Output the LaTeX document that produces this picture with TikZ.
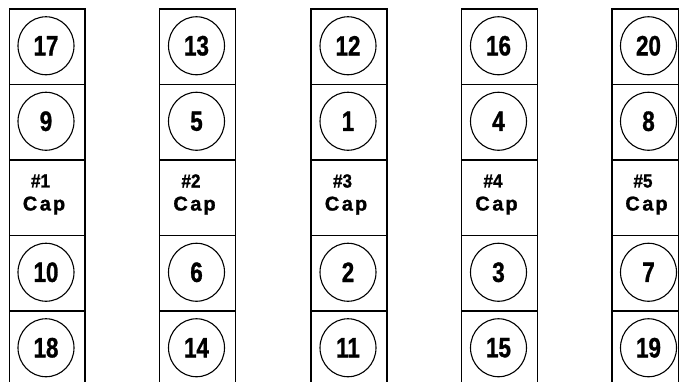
\documentclass[tikz,border=0pt]{standalone}
\usepackage{fontspec}
\setmainfont{Liberation Sans}
\newfontfamily\numfont{Liberation Sans}[BoldFont={Liberation Sans Bold}, BoldFeatures={FakeBold=1.2}]
\usetikzlibrary{shapes.geometric}
\begin{document}
\begin{tikzpicture}[x=1pt,y=-1pt,
  cellbox/.style={draw=black, line width=1.5pt, minimum height=75.5pt, inner sep=0pt, anchor=north west},
  numring/.style={ellipse, draw=black, line width=1.1pt, minimum width=56pt, minimum height=58pt, inner sep=0pt,
    font=\numfont\bfseries\fontsize{28}{28}\selectfont},
  captext/.style={align=center, inner sep=0pt, font=\numfont\bfseries\fontsize{20}{23}\selectfont}]
\useasboundingbox (0,0) rectangle (679,381);
\clip (0,0) rectangle (679,381);
% columns: index / left edge / width / circle centre x / numbers top to bottom
\foreach \c/\l/\w/\cx/\a/\b/\d/\e in {
  1/8.5/75.5/46/17/9/10/18,
  2/158.5/76/196.5/13/5/6/14,
  3/310/76/348/12/1/2/11,
  4/460.5/76/498.5/16/4/3/15,
  5/611/67/648.5/20/8/7/19}{
  \foreach \r in {1,...,5}{
    \node[cellbox, minimum width=\w pt] (cell\c\r) at (\l, {8+(\r-1)*75.5}) {};
  }
  \node[numring] (n\c1) at (\cx, 45.75) {\scalebox{0.8}[1]{\a}};
  \node[numring] (n\c2) at (\cx, 121.25) {\scalebox{0.8}[1]{\b}};
  \node[captext] (cap\c) at (\cx-2, 194.5) {{\fontsize{19}{19}\selectfont\scalebox{0.9}[1]{\#\c}}\hspace*{7pt}\\[0pt]C\kern2.5pt a\kern2pt p};
  \node[numring] (n\c4) at (\cx, 272.25) {\scalebox{0.8}[1]{\d}};
  \node[numring] (n\c5) at (\cx, 347.75) {\scalebox{0.8}[1]{\e}};
}
\end{tikzpicture}
\end{document}
